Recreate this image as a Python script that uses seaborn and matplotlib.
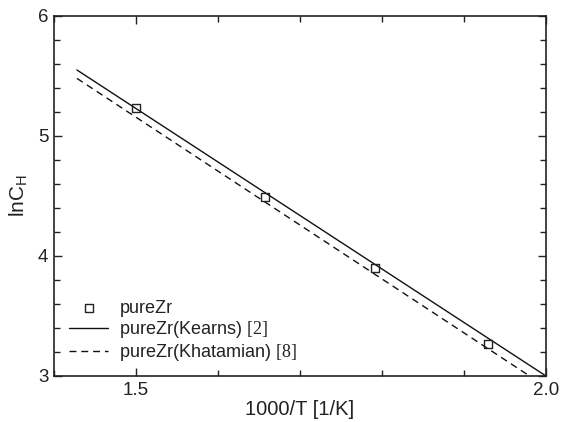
import matplotlib
matplotlib.use("Agg")
import matplotlib.pyplot as plt
import seaborn as sns
import pandas as pd
from matplotlib.ticker import MultipleLocator, FixedLocator

# Data
inv_T = [1.500, 1.657, 1.791, 1.929]
lnC = [5.23, 4.49, 3.90, 3.27]

kearns_x = [1.428, 2.0]
kearns_y = [5.55, 3.00]

khatamian_x = [1.428, 2.0]
khatamian_y = [5.48, 2.91]

sns.set_theme(style="ticks")
plt.rcParams['font.family'] = ['Liberation Sans', 'DejaVu Sans']
plt.rcParams['mathtext.fontset'] = 'custom'
plt.rcParams['mathtext.rm'] = 'Liberation Serif'
plt.rcParams['mathtext.sf'] = 'Liberation Sans'

fig = plt.figure(figsize=(5.61, 4.22), dpi=100)
ax = fig.add_axes([54/561, 1-376/422, (546-54)/561, (376-16)/422])

pts = pd.DataFrame({"x": inv_T, "y": lnC})
kdf = pd.DataFrame({"x": kearns_x, "y": kearns_y})
hdf = pd.DataFrame({"x": khatamian_x, "y": khatamian_y})

sns.scatterplot(data=pts, x="x", y="y", ax=ax, marker="s", s=32,
                facecolor="none", edgecolor="#222222", linewidth=1.0,
                label="pureZr", zorder=3)
sns.lineplot(data=kdf, x="x", y="y", ax=ax, color="#111111", lw=1.0,
             label=r"pureZr(Kearns) $\mathrm{[2]}$")
sns.lineplot(data=hdf, x="x", y="y", ax=ax, color="#111111", lw=1.0,
             label=r"pureZr(Khatamian) $\mathrm{[8]}$")
ax.lines[-1].set_dashes((5, 3.5))

ax.set_xlim(1.4, 2.0)
ax.set_ylim(3, 6)
ax.xaxis.set_major_locator(FixedLocator([1.5, 2.0]))
ax.xaxis.set_minor_locator(MultipleLocator(0.1))
ax.yaxis.set_major_locator(MultipleLocator(1))
ax.yaxis.set_minor_locator(MultipleLocator(0.2))
ax.set_xticklabels(["1.5", "2.0"])

ax.tick_params(which="both", direction="in", top=True, right=True,
               colors="#222222", width=1.0, labelsize=13.5, pad=4)
ax.tick_params(which="major", length=6)
ax.tick_params(which="minor", length=4)
for s in ax.spines.values():
    s.set_linewidth(1.2)
    s.set_color("#222222")

ax.set_xlabel("1000/T [1/K]", fontsize=14.5, color="#222222", labelpad=1)
ax.set_ylabel(r"lnC$_\mathsf{H}$", fontsize=15, color="#222222", labelpad=6)

leg = ax.legend(loc="lower left", bbox_to_anchor=(0.03, 0.035), frameon=False,
                fontsize=13, handlelength=2.2, handletextpad=0.6,
                labelspacing=0.12, borderpad=0, borderaxespad=0)
for t in leg.get_texts():
    t.set_color("#222222")

fig.savefig("out.png", dpi=100)
